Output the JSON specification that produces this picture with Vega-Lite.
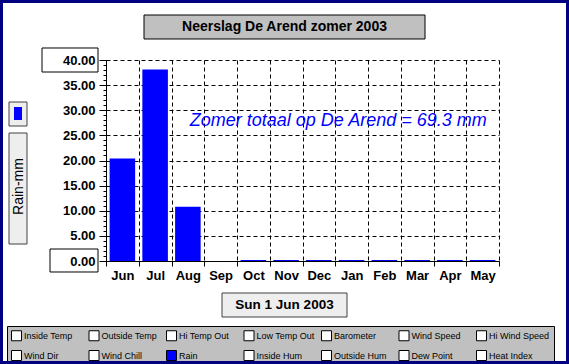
{
  "$schema": "https://vega.github.io/schema/vega-lite/v6.json",
  "width": 393,
  "height": 201,
  "autosize": {"type": "none"},
  "padding": {"left": 106, "top": 60, "right": 70, "bottom": 103},
  "background": "white",
  "config": {"view": {"stroke": null}, "font": "Liberation Sans"},
  "data": {
    "values": [
      {"month": "Jun", "rain": 20.4, "series": "Rain"},
      {"month": "Jul", "rain": 38.1, "series": "Rain"},
      {"month": "Aug", "rain": 10.8, "series": "Rain"},
      {"month": "Sep", "rain": 0, "series": "Rain"},
      {"month": "Oct", "rain": 0.2, "series": "Rain"},
      {"month": "Nov", "rain": 0.2, "series": "Rain"},
      {"month": "Dec", "rain": 0.2, "series": "Rain"},
      {"month": "Jan", "rain": 0.2, "series": "Rain"},
      {"month": "Feb", "rain": 0.2, "series": "Rain"},
      {"month": "Mar", "rain": 0.2, "series": "Rain"},
      {"month": "Apr", "rain": 0.2, "series": "Rain"},
      {"month": "May", "rain": 0.2, "series": "Rain"}
    ]
  },
  "layer": [
    {
      "mark": {"type": "bar", "width": {"band": 0.78}, "color": "#0000ff"},
      "encoding": {
        "x": {
          "field": "month", "type": "nominal", "sort": null,
          "scale": {"domain": ["Jun","Jul","Aug","Sep","Oct","Nov","Dec","Jan","Feb","Mar","Apr","May"], "paddingInner": 0, "paddingOuter": 0},
          "axis": {"title": null, "labelAngle": 0, "labelFont": "Liberation Sans", "labelFontSize": 13, "labelFontWeight": "bold", "labelColor": "black", "labelPadding": 3, "tickBand": "extent", "tickSize": 5, "tickColor": "black", "domainColor": "black", "grid": true, "gridColor": "black", "gridDash": [4, 3], "gridOpacity": 1, "zindex": 0}
        },
        "y": {
          "field": "rain", "type": "quantitative",
          "scale": {"domain": [0, 40], "nice": false},
          "axis": {"orient": "left", "values": [0, 5, 10, 15, 20, 25, 30, 35, 40], "format": ".2f", "labelFont": "Liberation Sans", "labelFontSize": 13, "labelFontWeight": "bold", "labelColor": "black", "labelPadding": 4, "tickSize": 7, "tickColor": "black", "domainColor": "black", "grid": false, "title": "Rain-mm", "titleX": -88, "titleY": 126, "titleAngle": -90, "titleAlign": "center", "titleBaseline": "middle", "titleFont": "Liberation Sans", "titleFontSize": 14, "titleFontWeight": "normal", "titleColor": "black", "zindex": 1}
        },
        "color": {
          "field": "series", "type": "nominal",
          "scale": {
            "domain": ["Inside Temp", "Wind Dir", "Outside Temp", "Wind Chill", "Hi Temp Out", "Rain", "Low Temp Out", "Inside Hum", "Barometer", "Outside Hum", "Wind Speed", "Dew Point", "Hi Wind Speed", "Heat Index"],
            "range": ["white", "white", "white", "white", "white", "#0000ff", "white", "white", "white", "white", "white", "white", "white", "white"]
          },
          "legend": {"orient": "none", "legendX": -99, "legendY": 266, "title": null, "columns": 7, "gridAlign": "all", "padding": 4, "fillColor": "#c0c0c0", "strokeColor": "black", "symbolType": "square", "symbolSize": 100, "symbolStrokeColor": "black", "symbolStrokeWidth": 1, "labelFont": "Liberation Sans", "labelFontSize": 9, "labelColor": "black", "labelOffset": 2, "columnPadding": 1.5, "rowPadding": 5, "labelLimit": 0, "zindex": 0}
        }
      }
    },
    {
      "data": {"values": [{"note": "Zomer totaal op De Arend = 69.3 mm"}]},
      "mark": {"type": "text", "font": "Liberation Sans", "fontSize": 18, "fontStyle": "italic", "color": "#0000ff", "align": "center", "baseline": "middle", "dx": 3},
      "encoding": {
        "x": {"datum": "Jan", "bandPosition": 0, "scale": {"domain": ["Jun","Jul","Aug","Sep","Oct","Nov","Dec","Jan","Feb","Mar","Apr","May"], "paddingInner": 0, "paddingOuter": 0}},
        "y": {"datum": 27.8, "scale": {"domain": [0, 40], "nice": false},
          "axis": {"orient": "left", "values": [0, 5, 10, 15, 20, 25, 30, 35, 40], "labels": false, "ticks": false, "domain": false, "title": null, "grid": true, "gridColor": "black", "gridDash": [4, 3], "gridOpacity": 1, "zindex": 0}},
        "text": {"field": "note"}
      }
    },
    {
      "mark": {"type": "text", "text": ""},
      "encoding": {
        "y": {"datum": 0, "scale": {"domain": [0, 40], "nice": false},
          "axis": {"orient": "left", "values": [0,1,2,3,4,5,6,7,8,9,10,11,12,13,14,15,16,17,18,19,20,21,22,23,24,25,26,27,28,29,30,31,32,33,34,35,36,37,38,39,40], "labels": false, "domain": false, "grid": false, "title": null, "tickSize": 3, "tickColor": "black", "zindex": 1}},
        "color": {"datum": "Neerslag De Arend zomer 2003", "scale": {"range": ["#c0c0c0"]},
          "legend": {"orient": "none", "legendX": 37.5, "legendY": -174, "title": null, "padding": 0, "symbolType": "M-1,-0.0854H1V0.0854H-1Z", "symbolSize": 78961, "symbolStrokeColor": "black", "symbolStrokeWidth": 1, "labelAlign": "center", "labelOffset": -141, "labelFont": "Liberation Sans", "labelFontSize": 14, "labelFontWeight": "bold", "labelColor": "black", "labelLimit": 0, "zindex": 0}}
      }
    },
    {
      "mark": {"type": "text", "text": ""},
      "encoding": {
        "color": {"datum": "Sun 1 Jun 2003", "scale": {"range": ["#eeeeee"]},
          "legend": {"orient": "none", "legendX": 115.5, "legendY": 182, "title": null, "padding": 0, "symbolType": "M-1,-0.192H1V0.192H-1Z", "symbolSize": 15625, "symbolStrokeColor": "#404040", "symbolStrokeWidth": 1, "labelAlign": "center", "labelOffset": -63, "labelFont": "Liberation Sans", "labelFontSize": 13.5, "labelFontWeight": "bold", "labelColor": "black", "labelLimit": 0, "zindex": 0}}
      }
    },
    {
      "mark": {"type": "text", "text": ""},
      "encoding": {
        "color": {"datum": "rainbox", "scale": {"range": ["#eeeeee"]},
          "legend": {"orient": "none", "legendX": -144, "legendY": 72.5, "title": null, "padding": 0, "symbolType": "M-0.1622,-1H0.1622V1H-0.1622Z", "symbolSize": 12321, "symbolStrokeColor": "#404040", "symbolStrokeWidth": 1, "labelExpr": "''", "zindex": 0}}
      }
    },
    {
      "mark": {"type": "text", "text": ""},
      "encoding": {
        "color": {"datum": "swatch", "scale": {"range": ["#eeeeee"]},
          "legend": {"orient": "none", "legendX": -100.5, "legendY": 41.5, "title": null, "padding": 0, "symbolType": "M-0.75,-1H0.75V1H-0.75Z", "symbolSize": 576, "symbolStrokeColor": "#404040", "symbolStrokeWidth": 1, "labelExpr": "''", "zindex": 0}}
      }
    },
    {
      "mark": {"type": "text", "text": ""},
      "encoding": {
        "color": {"datum": "swatchfill", "scale": {"range": ["#0000ff"]},
          "legend": {"orient": "none", "legendX": -94.5, "legendY": 47, "title": null, "padding": 0, "symbolType": "M-0.615,-1H0.615V1H-0.615Z", "symbolSize": 169, "symbolStrokeColor": "transparent", "symbolStrokeWidth": 0, "labelExpr": "''", "zindex": 1}}
      }
    },
    {
      "mark": {"type": "text", "text": ""},
      "encoding": {
        "color": {"datum": "box40", "scale": {"range": ["white"]},
          "legend": {"orient": "none", "legendX": -64.5, "legendY": -28.5, "title": null, "padding": 0, "symbolType": "M-1,-0.4286H1V0.4286H-1Z", "symbolSize": 3136, "symbolStrokeColor": "black", "symbolStrokeWidth": 1, "labelExpr": "''", "zindex": 0}}
      }
    },
    {
      "mark": {"type": "text", "text": ""},
      "encoding": {
        "color": {"datum": "box0", "scale": {"range": ["white"]},
          "legend": {"orient": "none", "legendX": -56.5, "legendY": 176, "title": null, "padding": 0, "symbolType": "M-1,-0.479H1V0.479H-1Z", "symbolSize": 2304, "symbolStrokeColor": "black", "symbolStrokeWidth": 1, "labelExpr": "''", "zindex": 0}}
      }
    },
    {
      "mark": {"type": "text", "text": ""},
      "encoding": {
        "color": {"datum": "border", "scale": {"range": ["transparent"]},
          "legend": {"orient": "none", "legendX": -106, "legendY": -162.5, "title": null, "padding": 0, "symbolType": "M-1,-0.6378H1V0.6378H-1Z", "symbolSize": 320356, "symbolStrokeColor": "#000080", "symbolStrokeWidth": 3, "labelExpr": "''", "zindex": 0}}
      }
    }
  ],
  "resolve": {
    "scale": {"color": "independent"},
    "legend": {"color": "independent"},
    "axis": {"y": "independent"}
  }
}
